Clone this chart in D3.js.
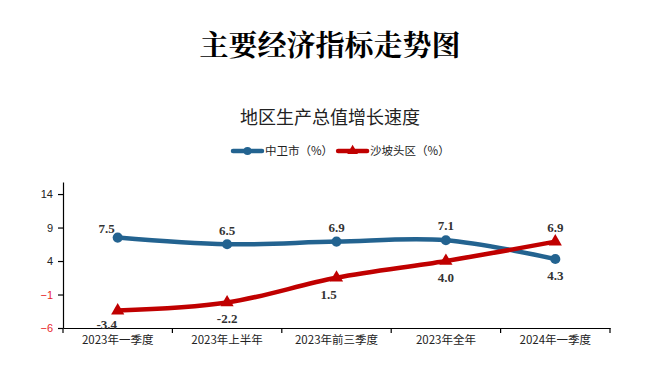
<!DOCTYPE html>
<html>
<head>
<meta charset="utf-8">
<script src="https://cdn.jsdelivr.net/npm/d3@7"></script>
<style>
  html, body { margin: 0; padding: 0; background: #fff; }
  svg { display: block; }
</style>
</head>
<body>
<div id="chart"></div>
<script>
const categories = ['2023年一季度', '2023年上半年', '2023年前三季度', '2023年全年', '2024年一季度']
const zhongwei = [7.5, 6.5, 6.9, 7.1, 4.3]
const shapotou = [-3.4, -2.2, 1.5, 4.0, 6.9]
const yTicks = [-6, -1, 4, 9, 14]

const W = 654, H = 391
const m = { left: 63, right: 44, top: 182, bottom: 63 }

const svg = d3.select('#chart').append('svg').attr('width', W).attr('height', H)

// ── Titles ──────────────────────────────────────────────
svg.append('text').attr('x', 330).attr('y', 56).attr('text-anchor', 'middle')
  .style('font-family', '"Noto Serif CJK SC", "Noto Sans CJK SC", serif').style('font-weight', 'bold')
  .style('font-size', '29px').attr('fill', '#000').text('主要经济指标走势图')

svg.append('text').attr('x', 330).attr('y', 124).attr('text-anchor', 'middle')
  .style('font-family', '"Noto Sans CJK SC", sans-serif').style('font-size', '18px')
  .attr('fill', '#222').text('地区生产总值增长速度')

// ── Scales ──────────────────────────────────────────────
const x = d3.scaleBand().domain(categories).range([m.left, W - m.right])
const cx = d => x(d) + x.bandwidth() / 2
const y = d3.scaleLinear().domain([-6, 15.8]).range([H - m.bottom, m.top])

// ── Axes ────────────────────────────────────────────────
const yAxis = svg.append('g').attr('transform', `translate(${m.left},0)`)
  .call(d3.axisLeft(y).tickValues(yTicks).tickSize(5).tickSizeOuter(0))
yAxis.select('.domain').attr('stroke', '#000').attr('stroke-width', 1.2)
yAxis.selectAll('.tick line').attr('stroke', '#000').attr('stroke-width', 1.2)
yAxis.selectAll('.tick text')
  .style('font-family', '"Liberation Sans", Arial, sans-serif').style('font-size', '11px')
  .attr('fill', d => d < 0 ? '#e8262b' : '#222').attr('dx', '-2')

const xAxis = svg.append('g').attr('transform', `translate(0,${H - m.bottom})`)
  .call(d3.axisBottom(x).tickSize(0))
xAxis.select('.domain').attr('stroke', '#000').attr('stroke-width', 1.2)
xAxis.selectAll('.tick text')
  .style('font-family', '"Noto Sans CJK SC", sans-serif').style('font-size', '11.5px')
  .attr('fill', '#222').attr('dy', '1.1em')
// boundary ticks between categories
const bounds = categories.map(c => x(c)).concat([x(categories[categories.length - 1]) + x.bandwidth()])
svg.append('g').selectAll('line').data(bounds).join('line')
  .attr('x1', d => d).attr('x2', d => d)
  .attr('y1', H - m.bottom).attr('y2', H - m.bottom + 5)
  .attr('stroke', '#000').attr('stroke-width', 1.2)

// ── Lines ───────────────────────────────────────────────
const series = [
  { name: '中卫市（%）', values: zhongwei, color: '#236390', marker: 'circle' },
  { name: '沙坡头区（%）', values: shapotou, color: '#c00000', marker: 'triangle' }
]
const line = d3.line().x(d => d[0]).y(d => y(d[1])).curve(d3.curveCatmullRom.alpha(0.5))

series.forEach(s => {
  const pts = s.values.map((v, i) => [cx(categories[i]), v])
  svg.append('path').datum(pts).attr('d', line)
    .attr('fill', 'none').attr('stroke', s.color).attr('stroke-width', 4.5)
    .attr('stroke-linejoin', 'round').attr('stroke-linecap', 'round')
  const sym = d3.symbol().type(s.marker === 'circle' ? d3.symbolCircle : d3.symbolTriangle)
    .size(s.marker === 'circle' ? 80 : 75)
  svg.append('g').selectAll('path').data(pts).join('path')
    .attr('transform', d => `translate(${d[0]},${y(d[1])})`)
    .attr('d', sym).attr('fill', s.color)
})

// ── Data labels ─────────────────────────────────────────
// offsets per point: [dx, dy]
const blueOff = [[-11, -5], [0, -9], [0, -10], [0, -10], [0, 21]]
const redOff = [[-11, 18], [0, 20], [-8, 21], [0, 21], [0, -10]]
const labelStyle = sel => sel
  .style('font-family', '"Liberation Serif", "Times New Roman", serif').style('font-weight', 'bold')
  .style('font-size', '13px').attr('fill', '#333').attr('text-anchor', 'middle')

;[[zhongwei, blueOff], [shapotou, redOff]].forEach(([vals, off]) => {
  svg.append('g').selectAll('text').data(vals).join('text')
    .attr('x', (d, i) => cx(categories[i]) + off[i][0])
    .attr('y', (d, i) => y(d) + off[i][1])
    .text(d => d.toFixed(1))
    .call(labelStyle)
})

// ── Legend ──────────────────────────────────────────────
const leg = svg.append('g').attr('transform', 'translate(233,151)')
let lx = 0
series.forEach(s => {
  const g = leg.append('g').attr('transform', `translate(${lx},0)`)
  g.append('line').attr('x1', 0).attr('x2', 29).attr('y1', 0).attr('y2', 0)
    .attr('stroke', s.color).attr('stroke-width', 4.5).attr('stroke-linecap', 'round')
  g.append('path').attr('transform', 'translate(14.5,0)')
    .attr('d', d3.symbol().type(s.marker === 'circle' ? d3.symbolCircle : d3.symbolTriangle).size(50))
    .attr('fill', s.color)
  const t = g.append('text').attr('x', 32).attr('y', 4)
    .style('font-family', '"Noto Sans CJK SC", sans-serif').style('font-size', '11.5px')
    .attr('fill', '#222').text(s.name)
  lx += 32 + t.node().getComputedTextLength() + 5
})
</script>
</body>
</html>
